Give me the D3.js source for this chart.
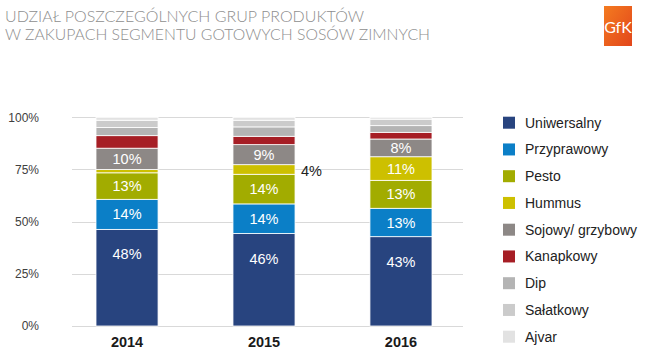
<!DOCTYPE html>
<html><head><meta charset="utf-8">
<script src="https://cdn.jsdelivr.net/npm/d3@7"></script>
<style>
body{margin:0;background:#fff;}
svg{display:block;}
</style></head><body>
<svg id="c" width="655" height="357"></svg>
<script>
const titleLines = ["UDZIAŁ POSZCZEGÓLNYCH GRUP PRODUKTÓW", "W ZAKUPACH SEGMENTU GOTOWYCH SOSÓW ZIMNYCH"];
const years = ["2014", "2015", "2016"];
const seriesNames = ["Uniwersalny", "Przyprawowy", "Pesto", "Hummus", "Sojowy/ grzybowy", "Kanapkowy", "Dip", "Sałatkowy", "Ajvar"];
const seriesColors = ["#28447f", "#0b7fc7", "#a2ac00", "#cdc000", "#8d8886", "#a61e25", "#b4b4b4", "#cbcbcb", "#e2e2e2"];
// shares (%) per year, in series order
const v2014 = [46.3, 14.4, 12.7, 1.6, 10.2, 6.0, 3.9, 3.5, 1.4];
const v2015 = [44.3, 14.2, 14.2, 4.6, 9.6, 4.0, 4.5, 3.2, 1.4];
const v2016 = [42.8, 13.6, 13.4, 11.3, 8.5, 3.2, 3.2, 3.1, 0.9];
// data labels shown on the chart (null = no label)
const lab2014 = ["48%", "14%", "13%", null, "10%", null, null, null, null];
const lab2015 = ["46%", "14%", "14%", "4%", "9%", null, null, null, null];
const lab2016 = ["43%", "13%", "13%", "11%", "8%", null, null, null, null];
const yTicks = [0, 25, 50, 75, 100];

const values = [v2014, v2015, v2016];
const labels = [lab2014, lab2015, lab2016];

const svg = d3.select("#c");
const font = "'Liberation Sans', Arial, sans-serif";

// title
svg.append("g").selectAll("text").data(titleLines).join("text")
  .attr("x", 5).attr("y", (d,i)=>21.5 + i*18.5)
  .attr("font-family", "Lato, 'Open Sans', sans-serif")
  .attr("font-weight", 300)
  .attr("font-size", 15.5)
  .attr("fill", "#8e8e8e")
  .attr("textLength", (d,i)=> i===0 ? 359 : 425)
  .attr("lengthAdjust", "spacingAndGlyphs")
  .text(d=>d);

// logo
const defs = svg.append("defs");
const lg = defs.append("linearGradient").attr("id","lg").attr("x1","0").attr("y1","0").attr("x2","1").attr("y2","1");
lg.append("stop").attr("offset","0").attr("stop-color","#f47b20");
lg.append("stop").attr("offset","1").attr("stop-color","#e2461b");
svg.append("rect").attr("x",604).attr("y",6).attr("width",28).attr("height",40).attr("fill","url(#lg)");
svg.append("text").attr("x",618).attr("y",33).attr("text-anchor","middle")
  .attr("font-family", "Lato, sans-serif").attr("font-weight",400).attr("font-size",16).attr("fill","#fff").text("GfK");

// scales
const y = d3.scaleLinear().domain([0,100]).range([326, 117.3]);
const x = d3.scaleBand().domain(years).range([96, 432]).paddingInner(0.547).paddingOuter(0);

// grid
svg.append("g").selectAll("line").data(yTicks).join("line")
  .attr("x1", 72).attr("x2", 463)
  .attr("y1", d=>Math.round(y(d))+0.5).attr("y2", d=>Math.round(y(d))+0.5)
  .attr("stroke", "#d9d9d9").attr("stroke-width", 1);

// y axis labels
const yAxis = d3.axisLeft(y).tickValues(yTicks).tickFormat(d=>d+"%").tickSize(0).tickPadding(0);
const ya = svg.append("g").attr("transform","translate(39,0)").call(yAxis);
ya.select(".domain").remove();
ya.selectAll("text").attr("font-family", font).attr("font-size", 12).attr("fill", "#404040");

// x axis labels
const xAxis = d3.axisBottom(x).tickSize(0).tickPadding(0);
const xa = svg.append("g").attr("transform","translate(0,337)").call(xAxis);
xa.select(".domain").remove();
xa.selectAll("text").attr("font-family", font).attr("font-size", 14.5).attr("font-weight","bold").attr("fill","#1a1a1a");

// stacked bars
const rows = years.map((yr,i)=>{ const o={year:yr}; seriesNames.forEach((s,j)=>o[s]=values[i][j]); return o; });
const stack = d3.stack().keys(seriesNames)(rows);
const color = d3.scaleOrdinal().domain(seriesNames).range(seriesColors);

const gBars = svg.append("g");
stack.forEach((layer, j)=>{
  gBars.selectAll(null).data(layer).join("rect")
    .attr("x", d=>x(d.data.year))
    .attr("width", x.bandwidth())
    .attr("y", d=>y(d[1]))
    .attr("height", d=>y(d[0])-y(d[1]))
    .attr("fill", color(seriesNames[j]))
    .attr("stroke", "#ffffff").attr("stroke-width", 0.8);
});

// labels
stack.forEach((layer, j)=>{
  layer.forEach((d, i)=>{
    const t = labels[i][j];
    if(!t) return;
    const top = y(d[1]), bot = y(d[0]);
    const h = bot - top;
    let cx = x(d.data.year) + x.bandwidth()/2;
    let cy = Math.min((top+bot)/2, top + 25);
    let fill = "#ffffff", anchor = "middle";
    if (h < 14) { cx = x(d.data.year) + x.bandwidth() + 6; fill = "#222"; anchor = "start"; cy = (top+bot)/2 + 1; }
    svg.append("text").attr("x", cx).attr("y", cy).attr("dy","0.35em")
      .attr("text-anchor", anchor)
      .attr("font-family", font).attr("font-size", 14.5).attr("fill", fill).text(t);
  });
});

// legend
const lgd = svg.append("g");
seriesNames.forEach((s,i)=>{
  const cy = 122.7 + i*26.75;
  lgd.append("rect").attr("x",503).attr("y",cy-6).attr("width",12).attr("height",12).attr("fill",seriesColors[i]);
  lgd.append("text").attr("x",525).attr("y",cy).attr("dy","0.35em")
    .attr("font-family", font).attr("font-size", 14).attr("fill","#222").text(s);
});
</script>
</body></html>
